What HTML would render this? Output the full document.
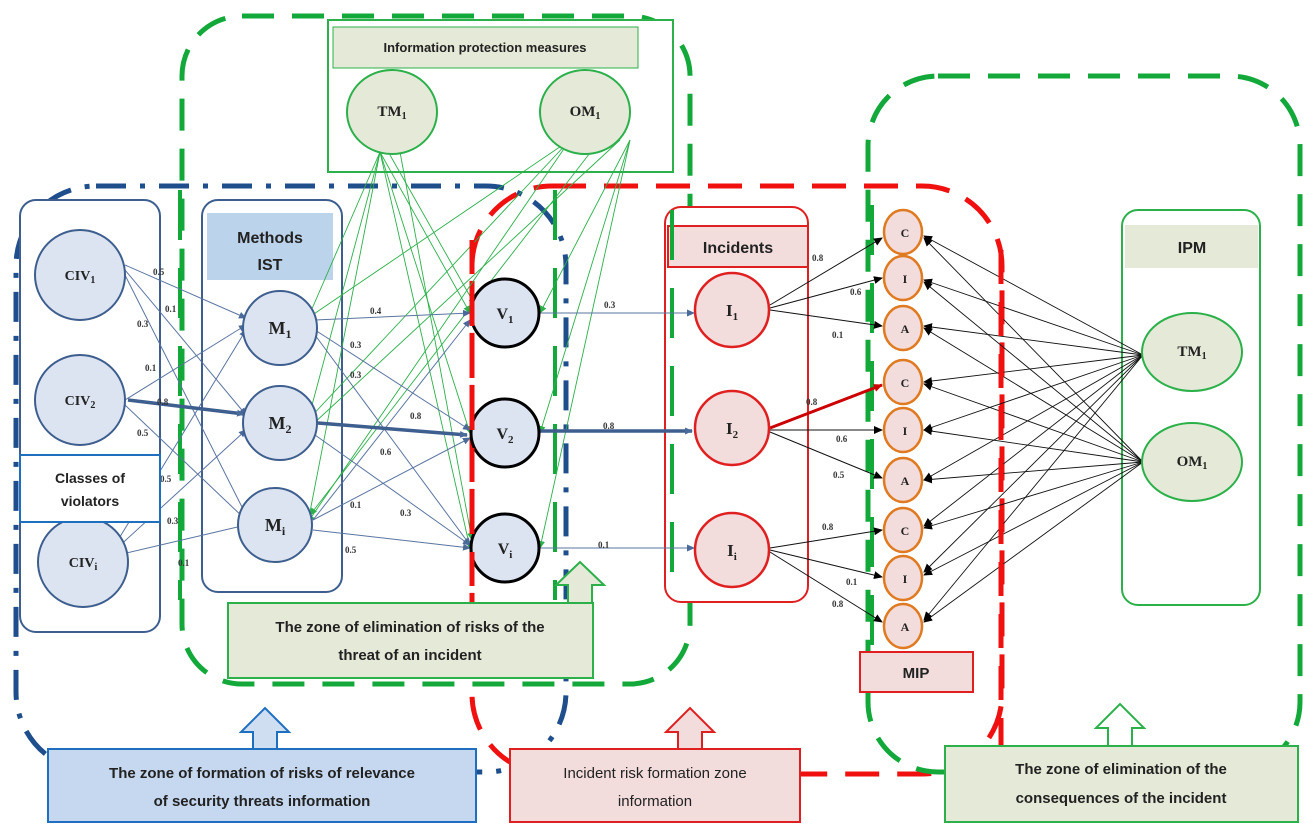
<!DOCTYPE html>
<html><head><meta charset="utf-8"><style>
body{margin:0;background:#fff}
svg{display:block;font-family:"Liberation Serif",serif}
.s{font-family:"Liberation Sans",sans-serif}
</style></head><body>
<svg width="1313" height="834" viewBox="0 0 1313 834" xmlns="http://www.w3.org/2000/svg">
<defs>
<marker id="ab" markerWidth="8" markerHeight="8" refX="7" refY="4" orient="auto" markerUnits="userSpaceOnUse"><path d="M0,0.5 L8,4 L0,7.5z" fill="#4a6a9a"/></marker>
<marker id="ag" markerWidth="8" markerHeight="8" refX="7" refY="4" orient="auto" markerUnits="userSpaceOnUse"><path d="M0,0.5 L8,4 L0,7.5z" fill="#2bb04a"/></marker>
<marker id="ak" markerWidth="9" markerHeight="9" refX="8" refY="4.5" orient="auto" markerUnits="userSpaceOnUse"><path d="M0,0.5 L9,4.5 L0,8.5z" fill="#000"/></marker>
<marker id="ar" markerWidth="9" markerHeight="9" refX="8" refY="4.5" orient="auto" markerUnits="userSpaceOnUse"><path d="M0,0.5 L9,4.5 L0,8.5z" fill="#c00"/></marker>
</defs>

<!-- zone outlines -->
<rect x="182" y="16" width="508" height="668" rx="60" fill="none" stroke="#12a83a" stroke-width="5" stroke-dasharray="32,18"/>
<rect x="16" y="186" width="550" height="586" rx="80" fill="none" stroke="#1f4e8c" stroke-width="5" stroke-dasharray="30,14,5,14"/>
<rect x="472" y="186" width="530" height="588" rx="80" fill="none" stroke="#f01010" stroke-width="5" stroke-dasharray="34,18"/>
<rect x="868" y="76" width="432" height="696" rx="70" fill="none" stroke="#12a83a" stroke-width="5" stroke-dasharray="32,18"/>

<!-- boxes -->
<rect x="20" y="200" width="140" height="432" rx="16" fill="#fff" stroke="#3d5e8e" stroke-width="2"/>
<rect x="202" y="200" width="140" height="392" rx="16" fill="#fff" stroke="#3d5e8e" stroke-width="2"/>
<rect x="207" y="213" width="126" height="67" fill="#bcd3ec"/>
<text x="270" y="243" class="s" font-size="16" font-weight="bold" text-anchor="middle" fill="#222">Methods</text>
<text x="270" y="270" class="s" font-size="16" font-weight="bold" text-anchor="middle" fill="#222">IST</text>
<rect x="665" y="207" width="143" height="395" rx="16" fill="#fff" stroke="#e02020" stroke-width="2"/>
<rect x="668" y="226" width="140" height="41" fill="#f2dcdc" stroke="#e02020" stroke-width="2"/>
<text x="738" y="253" class="s" font-size="16" font-weight="bold" text-anchor="middle" fill="#222">Incidents</text>
<rect x="1122" y="210" width="138" height="395" rx="16" fill="#fff" stroke="#2bb04a" stroke-width="2"/>
<rect x="1125" y="225" width="133" height="43" fill="#e5ead8"/>
<text x="1192" y="253" class="s" font-size="16" font-weight="bold" text-anchor="middle" fill="#222">IPM</text>
<rect x="328" y="20" width="345" height="152" fill="#fff" stroke="#2bb04a" stroke-width="2"/>
<rect x="333" y="27" width="305" height="41" fill="#e5ead8" stroke="#2bb04a" stroke-width="1"/>
<text x="485" y="52" class="s" font-size="13" font-weight="bold" text-anchor="middle" fill="#222">Information protection measures</text>

<!-- green inner dash verticals -->
<line x1="180" y1="190" x2="180" y2="600" stroke="#12a83a" stroke-width="4" stroke-dasharray="50,28"/>
<line x1="555" y1="190" x2="555" y2="600" stroke="#12a83a" stroke-width="4" stroke-dasharray="50,28"/>
<line x1="672" y1="210" x2="672" y2="600" stroke="#12a83a" stroke-width="4" stroke-dasharray="50,28"/>
<line x1="872" y1="205" x2="872" y2="645" stroke="#12a83a" stroke-width="4" stroke-dasharray="50,28"/>

<!-- green lines from TM/OM top -->
<g stroke="#2bb04a" stroke-width="0.9" fill="none" marker-end="url(#ag)">
<line x1="380" y1="152" x2="308" y2="318"/><line x1="380" y1="152" x2="308" y2="420"/><line x1="380" y1="152" x2="308" y2="522"/>
<line x1="380" y1="152" x2="470" y2="313"/><line x1="380" y1="152" x2="470" y2="433"/><line x1="380" y1="152" x2="470" y2="548"/>
<line x1="390" y1="155" x2="475" y2="305"/><line x1="400" y1="152" x2="472" y2="540"/>
<line x1="570" y1="140" x2="308" y2="318"/><line x1="570" y1="140" x2="308" y2="420"/><line x1="570" y1="140" x2="308" y2="522"/>
<line x1="630" y1="140" x2="540" y2="313"/><line x1="630" y1="140" x2="540" y2="433"/><line x1="630" y1="140" x2="540" y2="548"/>
<line x1="600" y1="140" x2="310" y2="515"/><line x1="620" y1="140" x2="312" y2="425"/>
</g>

<!-- blue lines CIV->M -->
<g stroke="#5a74a0" stroke-width="1" marker-end="url(#ab)">
<line x1="125" y1="265" x2="246" y2="318"/><line x1="125" y1="270" x2="246" y2="415"/><line x1="125" y1="275" x2="246" y2="515"/>
<line x1="125" y1="400" x2="246" y2="325"/><line x1="125" y1="405" x2="246" y2="520"/>
<line x1="115" y1="545" x2="246" y2="330"/><line x1="115" y1="550" x2="246" y2="430"/><line x1="118" y1="555" x2="246" y2="525"/>
<line x1="315" y1="320" x2="470" y2="313"/><line x1="315" y1="330" x2="470" y2="430"/><line x1="315" y1="335" x2="470" y2="545"/>
<line x1="315" y1="435" x2="470" y2="545"/>
<line x1="313" y1="520" x2="470" y2="320"/><line x1="313" y1="520" x2="470" y2="438"/><line x1="313" y1="530" x2="470" y2="548"/>
<line x1="540" y1="313" x2="694" y2="313"/><line x1="540" y1="548" x2="694" y2="548"/>
</g>
<g stroke="#3d5e8e" stroke-width="3.5" marker-end="url(#ab)">
<line x1="128" y1="400" x2="244" y2="414"/><line x1="318" y1="423" x2="467" y2="435"/><line x1="540" y1="431" x2="692" y2="431"/>
</g>

<!-- I -> CIA -->
<g stroke="#111" stroke-width="1" marker-end="url(#ak)">
<line x1="770" y1="305" x2="882" y2="238"/><line x1="770" y1="308" x2="882" y2="278"/><line x1="770" y1="310" x2="882" y2="326"/>
<line x1="770" y1="430" x2="882" y2="430"/><line x1="770" y1="432" x2="882" y2="478"/>
<line x1="770" y1="548" x2="882" y2="530"/><line x1="770" y1="550" x2="882" y2="577"/><line x1="770" y1="552" x2="882" y2="622"/>
</g>
<line x1="770" y1="428" x2="882" y2="385" stroke="#c00" stroke-width="3" marker-end="url(#ar)"/>

<!-- TM/OM -> CIA -->
<g stroke="#111" stroke-width="0.9" marker-end="url(#ak)">
<line x1="1143" y1="355" x2="924" y2="236"/><line x1="1143" y1="355" x2="924" y2="280"/><line x1="1143" y1="355" x2="924" y2="326"/>
<line x1="1143" y1="355" x2="924" y2="382"/><line x1="1143" y1="355" x2="924" y2="430"/><line x1="1143" y1="355" x2="924" y2="480"/>
<line x1="1143" y1="355" x2="924" y2="526"/><line x1="1143" y1="355" x2="924" y2="572"/><line x1="1143" y1="355" x2="924" y2="620"/>
<line x1="1143" y1="462" x2="924" y2="238"/><line x1="1143" y1="462" x2="924" y2="282"/><line x1="1143" y1="462" x2="924" y2="328"/>
<line x1="1143" y1="462" x2="924" y2="384"/><line x1="1143" y1="462" x2="924" y2="430"/><line x1="1143" y1="462" x2="924" y2="480"/>
<line x1="1143" y1="462" x2="924" y2="528"/><line x1="1143" y1="462" x2="924" y2="575"/><line x1="1143" y1="462" x2="924" y2="622"/>
</g>

<!-- nodes -->
<g fill="#dbe4f0" stroke="#3d5e8e" stroke-width="2">
<circle cx="80" cy="275" r="45"/><circle cx="80" cy="400" r="45"/><circle cx="83" cy="562" r="45"/>
<circle cx="280" cy="328" r="37"/><circle cx="280" cy="423" r="37"/><circle cx="275" cy="525" r="37"/>
</g>
<g fill="#dbe4f0" stroke="#000" stroke-width="3">
<circle cx="505" cy="313" r="34"/><circle cx="505" cy="433" r="34"/><circle cx="505" cy="548" r="34"/>
</g>
<g fill="#f2dcdc" stroke="#e02020" stroke-width="2.5">
<circle cx="732" cy="310" r="37"/><circle cx="732" cy="428" r="37"/><circle cx="732" cy="550" r="37"/>
</g>
<g fill="#f2dcdc" stroke="#e07a20" stroke-width="2.5">
<ellipse cx="903" cy="232" rx="19" ry="22"/><ellipse cx="903" cy="278" rx="19" ry="22"/><ellipse cx="903" cy="328" rx="19" ry="22"/>
<ellipse cx="903" cy="382" rx="19" ry="22"/><ellipse cx="903" cy="430" rx="19" ry="22"/><ellipse cx="903" cy="480" rx="19" ry="22"/>
<ellipse cx="903" cy="530" rx="19" ry="22"/><ellipse cx="903" cy="578" rx="19" ry="22"/><ellipse cx="903" cy="626" rx="19" ry="22"/>
</g>
<g fill="#e5ead8" stroke="#2bb04a" stroke-width="2">
<ellipse cx="392" cy="112" rx="45" ry="42"/><ellipse cx="585" cy="112" rx="45" ry="42"/>
<ellipse cx="1192" cy="352" rx="50" ry="39"/><ellipse cx="1192" cy="462" rx="50" ry="39"/>
</g>

<!-- red verticals on V -->
<line x1="472" y1="230" x2="472" y2="590" stroke="#f01010" stroke-width="5" stroke-dasharray="34,18" stroke-dashoffset="-10"/>
<line x1="1001" y1="250" x2="1001" y2="760" stroke="#f01010" stroke-width="5" stroke-dasharray="34,18"/>

<!-- node text -->
<g font-weight="bold" fill="#222" text-anchor="middle">
<text x="80" y="280" font-size="14">CIV<tspan font-size="10" dy="3">1</tspan></text>
<text x="80" y="405" font-size="14">CIV<tspan font-size="10" dy="3">2</tspan></text>
<text x="83" y="567" font-size="14">CIV<tspan font-size="10" dy="3">i</tspan></text>
<text x="280" y="334" font-size="18">M<tspan font-size="12" dy="4">1</tspan></text>
<text x="280" y="429" font-size="18">M<tspan font-size="12" dy="4">2</tspan></text>
<text x="275" y="531" font-size="18">M<tspan font-size="12" dy="4">i</tspan></text>
<text x="505" y="319" font-size="16">V<tspan font-size="11" dy="4">1</tspan></text>
<text x="505" y="439" font-size="16">V<tspan font-size="11" dy="4">2</tspan></text>
<text x="505" y="554" font-size="16">V<tspan font-size="11" dy="4">i</tspan></text>
<text x="732" y="316" font-size="17">I<tspan font-size="11" dy="4">1</tspan></text>
<text x="732" y="434" font-size="17">I<tspan font-size="11" dy="4">2</tspan></text>
<text x="732" y="556" font-size="17">I<tspan font-size="11" dy="4">i</tspan></text>
<text x="392" y="116" font-size="15">TM<tspan font-size="10" dy="3">1</tspan></text>
<text x="585" y="116" font-size="15">OM<tspan font-size="10" dy="3">1</tspan></text>
<text x="1192" y="356" font-size="15">TM<tspan font-size="10" dy="3">1</tspan></text>
<text x="1192" y="466" font-size="15">OM<tspan font-size="10" dy="3">1</tspan></text>
<g font-size="12">
<text x="905" y="237">C</text><text x="905" y="283">I</text><text x="905" y="333">A</text>
<text x="905" y="387">C</text><text x="905" y="435">I</text><text x="905" y="485">A</text>
<text x="905" y="535">C</text><text x="905" y="583">I</text><text x="905" y="631">A</text>
</g>
</g>

<!-- weights -->
<g font-size="9" font-weight="bold" fill="#333">
<text x="153" y="275">0.5</text><text x="165" y="312">0.1</text><text x="137" y="327">0.3</text>
<text x="145" y="371">0.1</text><text x="157" y="405">0.8</text><text x="137" y="436">0.5</text>
<text x="160" y="482">0.5</text><text x="167" y="524">0.3</text><text x="178" y="566">0.1</text>
<text x="370" y="314">0.4</text><text x="350" y="348">0.3</text><text x="350" y="378">0.3</text>
<text x="410" y="419">0.8</text><text x="380" y="455">0.6</text><text x="350" y="508">0.1</text>
<text x="400" y="516">0.3</text><text x="345" y="553">0.5</text>
<text x="604" y="308">0.3</text><text x="603" y="429">0.8</text><text x="598" y="548">0.1</text>
<text x="812" y="261">0.8</text><text x="850" y="295">0.6</text><text x="832" y="338">0.1</text>
<text x="806" y="405">0.8</text><text x="836" y="442">0.6</text><text x="833" y="478">0.5</text>
<text x="822" y="530">0.8</text><text x="846" y="585">0.1</text><text x="832" y="607">0.8</text>
</g>

<!-- classes of violators -->
<rect x="20" y="455" width="140" height="67" fill="#fff" stroke="#1f6fc0" stroke-width="2"/>
<text x="90" y="483" class="s" font-size="14" font-weight="bold" text-anchor="middle" fill="#222">Classes of</text>
<text x="90" y="506" class="s" font-size="14" font-weight="bold" text-anchor="middle" fill="#222">violators</text>

<!-- MIP -->
<rect x="860" y="652" width="113" height="40" fill="#f2dcdc" stroke="#e02020" stroke-width="2"/>
<text x="916" y="678" class="s" font-size="15" font-weight="bold" text-anchor="middle" fill="#222">MIP</text>

<!-- up arrows -->
<path d="M568,603 V585 H556 L580,562 L604,585 H592 V603" fill="#e5ead8" stroke="#2bb04a" stroke-width="2"/>
<path d="M253,750 V732 H241 L265,708 L289,732 H277 V750" fill="#cfdef0" stroke="#1f6fc0" stroke-width="2"/>
<path d="M678,750 V732 H666 L690,708 L714,732 H702 V750" fill="#f2dcdc" stroke="#e02020" stroke-width="2"/>
<path d="M1108,746 V728 H1096 L1120,704 L1144,728 H1132 V746" fill="#fff" stroke="#2bb04a" stroke-width="2"/>

<!-- zone labels -->
<rect x="228" y="603" width="365" height="75" fill="#e5ead8" stroke="#2bb04a" stroke-width="2"/>
<text x="410" y="632" class="s" font-size="15" font-weight="bold" text-anchor="middle" fill="#222">The zone of elimination of risks of the</text>
<text x="410" y="660" class="s" font-size="15" font-weight="bold" text-anchor="middle" fill="#222">threat of an incident</text>
<rect x="48" y="749" width="428" height="73" fill="#c5d8ef" stroke="#1f6fc0" stroke-width="2"/>
<text x="262" y="778" class="s" font-size="15" font-weight="bold" text-anchor="middle" fill="#222">The zone of formation of risks of relevance</text>
<text x="262" y="806" class="s" font-size="15" font-weight="bold" text-anchor="middle" fill="#222">of security threats information</text>
<rect x="510" y="749" width="290" height="73" fill="#f2dcdc" stroke="#e02020" stroke-width="2"/>
<text x="655" y="778" class="s" font-size="15" text-anchor="middle" fill="#222">Incident risk formation zone</text>
<text x="655" y="806" class="s" font-size="15" text-anchor="middle" fill="#222">information</text>
<rect x="945" y="746" width="353" height="76" fill="#e5ead8" stroke="#2bb04a" stroke-width="2"/>
<text x="1121" y="774" class="s" font-size="15" font-weight="bold" text-anchor="middle" fill="#222">The zone of elimination of the</text>
<text x="1121" y="803" class="s" font-size="15" font-weight="bold" text-anchor="middle" fill="#222">consequences of the incident</text>
</svg>
</body></html>
